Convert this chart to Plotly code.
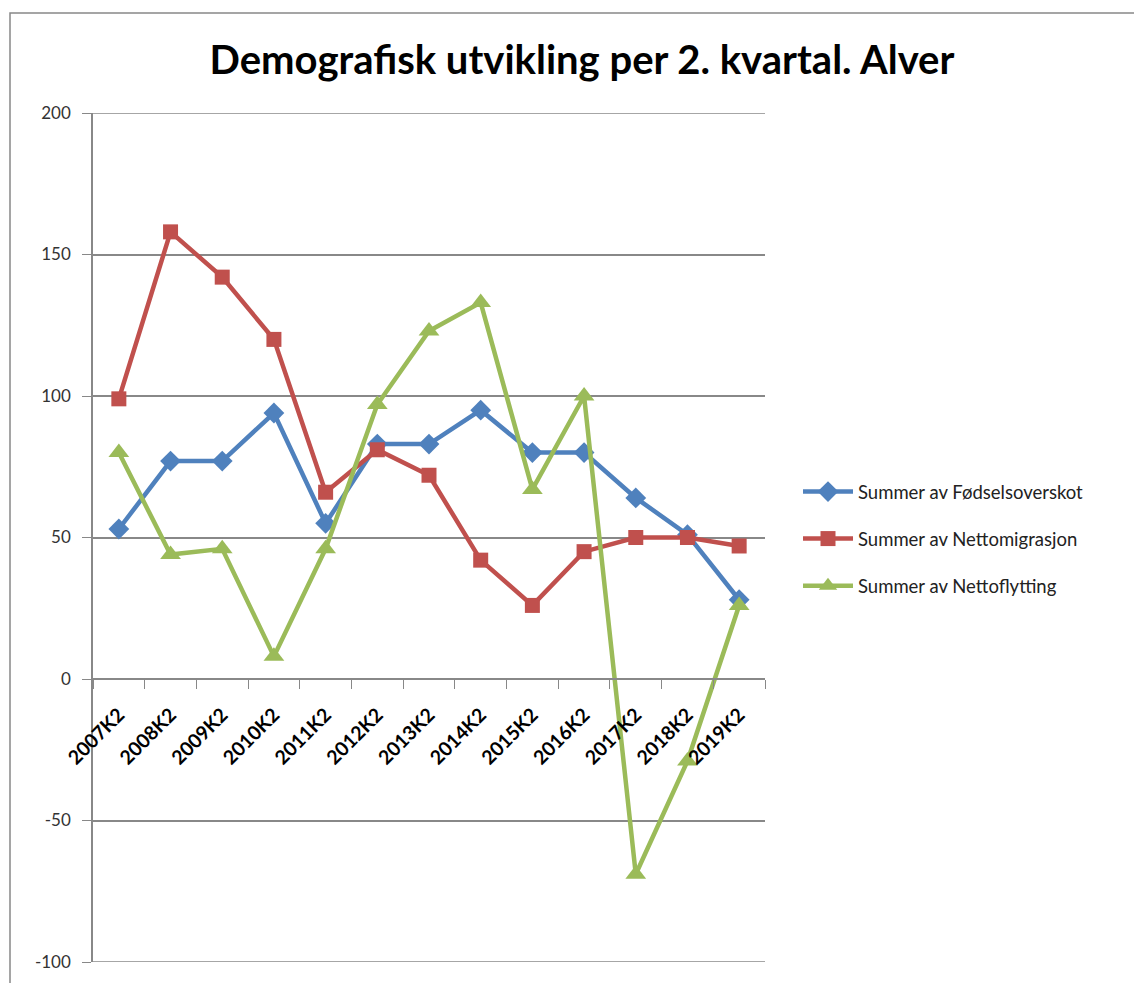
import plotly.graph_objects as go

categories = ["2007K2", "2008K2", "2009K2", "2010K2", "2011K2", "2012K2", "2013K2",
              "2014K2", "2015K2", "2016K2", "2017K2", "2018K2", "2019K2"]
fodselsoverskot = [53, 77, 77, 94, 55, 83, 83, 95, 80, 80, 64, 51, 28]
nettomigrasjon = [99, 158, 142, 120, 66, 81, 72, 42, 26, 45, 50, 50, 47]
nettoflytting = [80, 44, 46, 8, 46, 97, 123, 133, 67, 100, -69, -29, 26]
series_names = ["Summer av Fødselsoverskot", "Summer av Nettomigrasjon", "Summer av Nettoflytting"]
y_ticks = [-100, -50, 0, 50, 100, 150, 200]
y_tick_labels = ["-100", "-50", "0", "50", "100", "150", "200"]

OX, OY = 8, 8  # page body offset
W, H = 1142 - OX, 983 - OY
L, R, T, B = 93 - OX, 765 - OX, 113 - OY, 962 - OY

fig = go.Figure()
styles = [
    ("#4F81BD", "diamond", 16),
    ("#C0504D", "square", 15),
    ("#9BBB59", "triangle-up", 18),
]
for name, vals, (col, sym, sz) in zip(series_names, [fodselsoverskot, nettomigrasjon, nettoflytting], styles):
    fig.add_trace(go.Scatter(
        x=categories, y=vals, name=name, mode="lines+markers",
        line=dict(color=col, width=4.5),
        marker=dict(symbol=sym, size=sz, color=col),
        legendgroup=name,
    ))

y_lo, y_hi = y_ticks[0], y_ticks[-1]
plot_w = R - L
plot_h = B - T
fig.update_layout(
    width=W, height=H,
    margin=dict(l=L, r=W - R, t=T, b=H - B, autoexpand=False),
    paper_bgcolor="white", plot_bgcolor="white",
    font=dict(family="Lato, Calibri, sans-serif", color="#000000"),
    title=dict(text="<b>Demografisk utvikling per 2. kvartal. Alver</b>",
               font=dict(size=40, family="Lato, sans-serif", color="#000"),
               x=(582 - OX) / W, xref="container", xanchor="center",
               y=1 - (60 - OY) / H, yref="container", yanchor="middle"),
    showlegend=True,
    legend=dict(x=(798 - OX - L) / plot_w, xanchor="left",
                y=(B - (539 - OY)) / plot_h, yanchor="middle",
                font=dict(size=18.5, family="Lato, sans-serif", color="#222"),
                itemwidth=50, traceorder="grouped", tracegroupgap=20,
                bgcolor="rgba(0,0,0,0)"),
    xaxis=dict(
        type="category", anchor="free",
        position=(0 - y_lo) / (y_hi - y_lo),
        tickson="boundaries", ticks="outside", ticklen=9, tickcolor="#888888",
        showline=True, linecolor="#888888", linewidth=1.5,
        showgrid=False, tickangle=-45, ticklabelstandoff=16,
        tickfont=dict(size=19.5, family="Lato, sans-serif", color="#000", weight="bold"),
        range=[-0.5, len(categories) - 0.5],
    ),
    yaxis=dict(
        range=[y_lo, y_hi], tickvals=y_ticks, ticktext=y_tick_labels,
        ticks="outside", ticklen=9, tickcolor="#888888",
        showline=True, linecolor="#888888", linewidth=1.5,
        showgrid=True, gridcolor="#888888", gridwidth=1.5,
        zeroline=False, ticklabelstandoff=8,
        tickfont=dict(size=17, family="Lato, sans-serif", color="#333"),
    ),
)
# gridlines at the range edges (Plotly hides them)
for yv in (y_ticks[0], y_ticks[-1]):
    fig.add_shape(type="line", xref="paper", yref="y", x0=0, x1=1, y0=yv, y1=yv,
                  line=dict(color="#888888", width=1.5), layer="below")
# outer chart frame
fig.add_shape(type="rect", xref="paper", yref="paper",
              x0=(10 - OX - L) / plot_w, x1=(W + 20 - L) / plot_w,
              y0=(B - (H + 20)) / plot_h, y1=(B - (13 - OY)) / plot_h,
              line=dict(color="#888888", width=1.5), fillcolor="rgba(0,0,0,0)", layer="below")

fig.write_html("out.html")
